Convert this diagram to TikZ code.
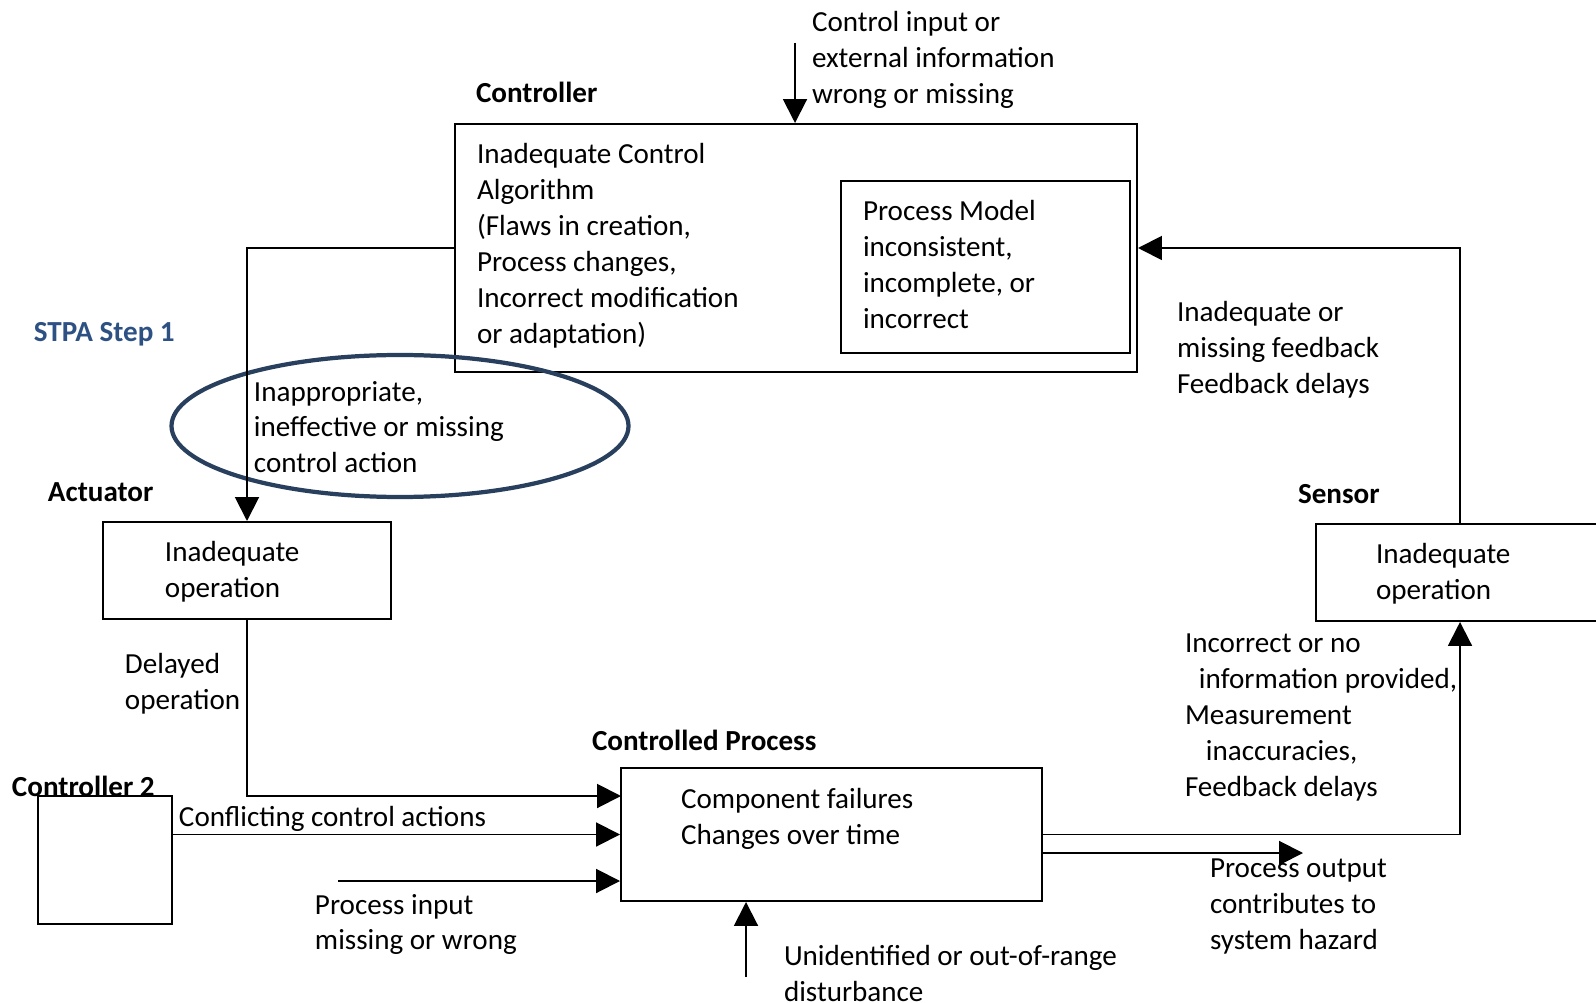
\documentclass[tikz,border=0pt]{standalone}
\usepackage{fontspec}
\setmainfont{Carlito}
\usetikzlibrary{arrows.meta, shapes.geometric, positioning}
\definecolor{stpablue}{HTML}{2E5184}
\definecolor{ringblue}{HTML}{283F5E}
\newcommand\diagfont{\fontsize{11pt}{13.6pt}\selectfont}

\begin{document}
\begin{tikzpicture}[x=0.378pt, y=-0.378pt, line width=0.75pt,
 box/.style={draw, rectangle, inner sep=0pt},
 size/.style 2 args={minimum width=#1*0.378pt, minimum height=#2*0.378pt},
 txt/.style={anchor=north west, inner sep=0pt, align=left, font=\diagfont},
 head/.style={anchor=base west, inner sep=0pt, font=\diagfont\bfseries},
 arr/.style={-{Triangle[length=9pt,width=9pt]}}]
  \useasboundingbox (0,0) rectangle (1596,1003);
  \clip (0,0) rectangle (1596,1003);

  \node[box, size={682}{248}] (ctrl) at (796,248) {};
  \node[box, size={289}{172}] (model) at (985.5,267) {};
  \node[box, size={288}{97}] (act) at (247,570.5) {};
  \node[box, size={421}{133}] (proc) at (831.5,834.5) {};
  \node[box, size={134}{128}] (ctrl2) at (105,860) {};
  \node[box, size={288}{97}] (sens) at (1460,572.5) {};
  \node[draw=ringblue, line width=1.6pt, ellipse, inner sep=0pt, size={457}{142}] (ring) at (400,426) {};

  \node[head] (ctrllab) at (475,103) {Controller};
  \node[head] (actlab) at (47,502) {Actuator};
  \node[head] (proclab) at (591,750) {Controlled Process};
  \node[head] (ctrl2lab) at (11,796) {Controller 2};
  \node[head] (senslab) at (1297,504) {Sensor};
  \node[head, text=stpablue] (step) at (33,342) {STPA Step 1};

  \node[txt] (ctrltext) at (476,142) {Inadequate Control\\Algorithm\\(Flaws in creation,\\Process changes,\\Incorrect modification\\or adaptation)};
  \node[txt] (modeltext) at (862,199) {Process Model\\inconsistent,\\incomplete, or\\incorrect};
  \node[txt] (cintext) at (811,10) {Control input or\\external information\\wrong or missing};
  \node[txt] (ringtext) at (253,380) {Inappropriate,\\ineffective or missing\\control action};
  \node[txt] (acttext) at (164,540) {Inadequate\\operation};
  \node[txt] (delay) at (124,652) {Delayed\\operation};
  \node[txt] (proctext) at (680,787) {Component failures\\Changes over time};
  \node[txt] (conflict) at (178,805) {Conflicting control actions};
  \node[txt] (pintext) at (314,893) {Process input\\missing or wrong};
  \node[txt] (disttext) at (783,944) {Unidentified or out-of-range\\disturbance};
  \node[txt] (pouttext) at (1209,858) {Process output\\contributes to\\system hazard};
  \node[txt] (senstext) at (1375,542) {Inadequate\\operation};
  \node[txt] (meas) at (1184,633) {Incorrect or no\\\hspace*{0.48em}information provided,\\Measurement\\\hspace*{0.72em}inaccuracies,\\Feedback delays};
  \node[txt] (fbtext) at (1176,300) {Inadequate or\\missing feedback\\Feedback delays};

  \coordinate (cin) at (795,43);
  \coordinate (pin) at (338,881);
  \coordinate (dist) at (746,977);
  \coordinate (pout) at (1303,853);
  \coordinate (actin) at (621,796);

  \draw[arr] (cin) -- (cin |- ctrl.north);
  \draw[arr] (ctrl.west) -| (act.north);
  \draw[arr] (act.south) |- (actin);
  \draw[arr] (ctrl2.east |- proc.west) -- (proc.west);
  \draw[arr] (pin) -- (pin -| proc.west);
  \draw[arr] (dist) -- (dist |- proc.south);
  \draw[arr] (proc.east) -| (sens.south);
  \draw[arr] (proc.east |- pout) -- (pout);
  \draw[arr] (sens.north) |- (ctrl.east);
\end{tikzpicture}
\end{document}
